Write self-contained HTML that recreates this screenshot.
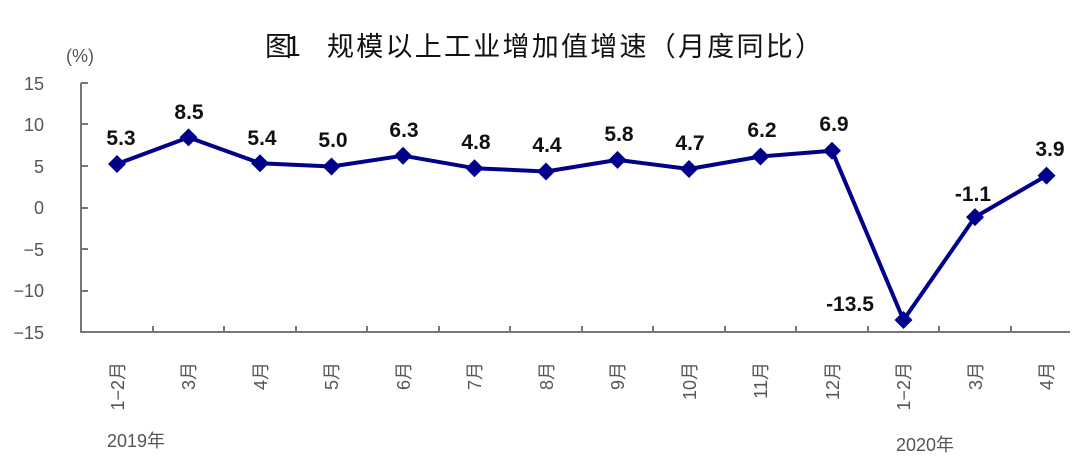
<!DOCTYPE html>
<html><head><meta charset="utf-8"><style>
html,body{margin:0;padding:0;background:#fff;}
svg{display:block;}
.t{font-family:"Liberation Sans","Noto Sans CJK SC",sans-serif;fill:#555;font-size:18px;}
.v{font-family:"Liberation Sans",sans-serif;font-weight:bold;font-size:21px;fill:#111;text-anchor:middle;}
</style></head><body>
<svg width="1088" height="476" viewBox="0 0 1088 476" xmlns="http://www.w3.org/2000/svg">
<text x="265" y="56" font-family="'Noto Sans CJK SC',sans-serif" font-size="27" fill="#111" textLength="36">图1</text>
<text x="327" y="56" font-family="'Noto Sans CJK SC',sans-serif" font-size="27" fill="#111" textLength="495">规模以上工业增加值增速（月度同比）</text>
<text class="t" x="66" y="62" font-size="15" text-anchor="start">(%)</text>
<g class="t" text-anchor="end">
<text x="44" y="90">15</text><text x="44" y="131">10</text><text x="44" y="173">5</text>
<text x="44" y="214">0</text><text x="44" y="256">−5</text><text x="44" y="297">−10</text><text x="44" y="339">−15</text>
</g>
<g stroke="#777" stroke-width="2" fill="none">
<path d="M81 83V332H1070"/>
<path d="M81 83h7M81 124h7M81 166h7M81 208h7M81 249h7M81 291h7"/>
<path d="M153 332v-6M224 332v-6M296 332v-6M367 332v-6M439 332v-6M510 332v-6M582 332v-6M653 332v-6M725 332v-6M796 332v-6M868 332v-6M939 332v-6M1011 332v-6"/>
</g>
<polyline fill="none" stroke="#00008B" stroke-width="4" stroke-linejoin="round" points="117,164 188.5,137.4 260,163.2 331.5,166.5 403,155.7 474.5,168.2 546,171.5 617.5,159.9 689,169 760.5,156.5 832,150.7 903.5,320 975,217.1 1046.5,175.6"/>
<g fill="#00008B">
<path d="M117 155l9 9-9 9-9-9z"/><path d="M188.5 128.4l9 9-9 9-9-9z"/><path d="M260 154.2l9 9-9 9-9-9z"/><path d="M331.5 157.5l9 9-9 9-9-9z"/><path d="M403 146.7l9 9-9 9-9-9z"/><path d="M474.5 159.2l9 9-9 9-9-9z"/><path d="M546 162.5l9 9-9 9-9-9z"/><path d="M617.5 150.9l9 9-9 9-9-9z"/><path d="M689 160l9 9-9 9-9-9z"/><path d="M760.5 147.5l9 9-9 9-9-9z"/><path d="M832 141.7l9 9-9 9-9-9z"/><path d="M903.5 311l9 9-9 9-9-9z"/><path d="M975 208.1l9 9-9 9-9-9z"/><path d="M1046.5 166.6l9 9-9 9-9-9z"/>
</g>
<g class="v">
<text x="121" y="145">5.3</text><text x="189" y="119">8.5</text><text x="262" y="145">5.4</text><text x="333" y="147">5.0</text><text x="404" y="137">6.3</text><text x="476" y="149">4.8</text><text x="547" y="152">4.4</text><text x="619" y="141">5.8</text><text x="690" y="150">4.7</text><text x="762" y="137">6.2</text><text x="834" y="131">6.9</text>
<text x="850" y="311">-13.5</text><text x="973" y="201">-1.1</text><text x="1050" y="156">3.9</text>
</g>
<g class="t">
<text transform="translate(124,362) rotate(-90)" text-anchor="end">1−2月</text>
<text transform="translate(195,362) rotate(-90)" text-anchor="end">3月</text>
<text transform="translate(267,362) rotate(-90)" text-anchor="end">4月</text>
<text transform="translate(338,362) rotate(-90)" text-anchor="end">5月</text>
<text transform="translate(410,362) rotate(-90)" text-anchor="end">6月</text>
<text transform="translate(481,362) rotate(-90)" text-anchor="end">7月</text>
<text transform="translate(553,362) rotate(-90)" text-anchor="end">8月</text>
<text transform="translate(624,362) rotate(-90)" text-anchor="end">9月</text>
<text transform="translate(696,362) rotate(-90)" text-anchor="end">10月</text>
<text transform="translate(767,362) rotate(-90)" text-anchor="end">11月</text>
<text transform="translate(839,362) rotate(-90)" text-anchor="end">12月</text>
<text transform="translate(910,362) rotate(-90)" text-anchor="end">1−2月</text>
<text transform="translate(982,362) rotate(-90)" text-anchor="end">3月</text>
<text transform="translate(1053,362) rotate(-90)" text-anchor="end">4月</text>
<text x="107" y="447">2019年</text>
<text x="896" y="451">2020年</text>
</g>
</svg>
</body></html>
